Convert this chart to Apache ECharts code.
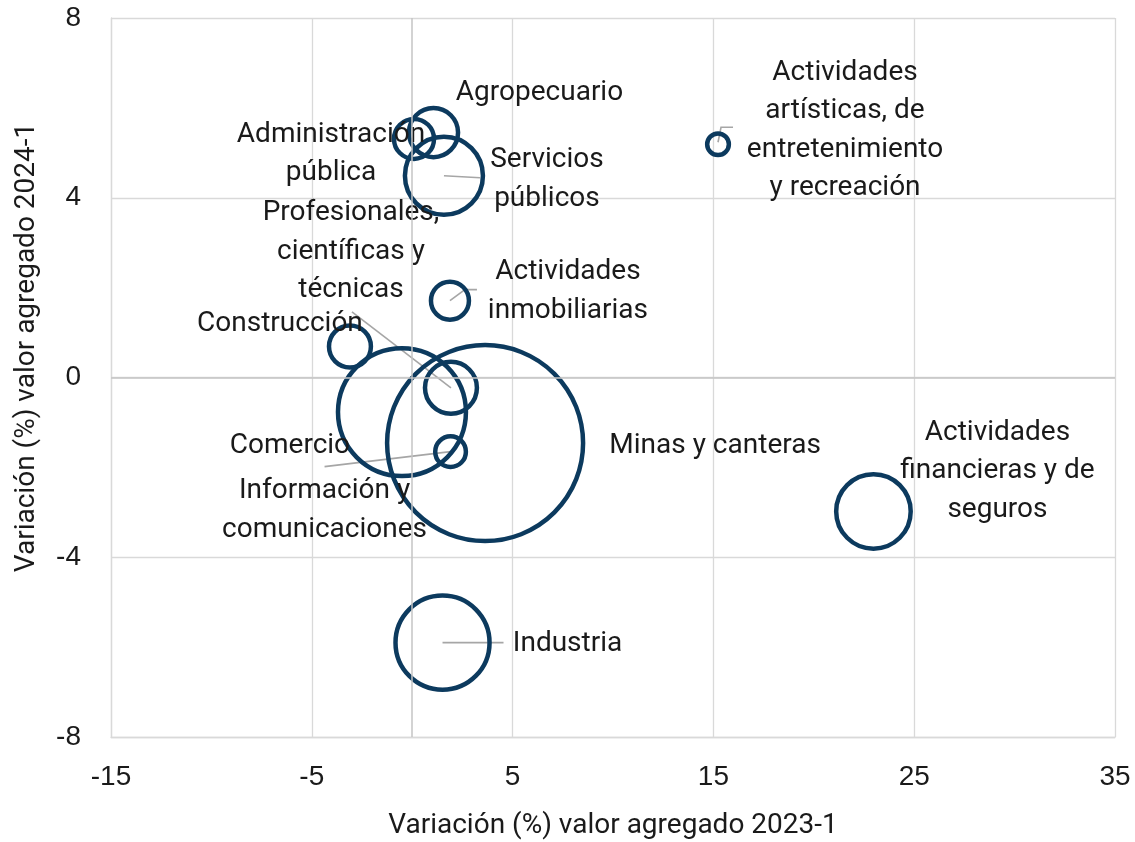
<!DOCTYPE html>
<html>
<head>
<meta charset="utf-8">
<script src="https://cdn.jsdelivr.net/npm/echarts@6/dist/echarts.min.js"></script>
<style>
html,body{margin:0;padding:0;background:#fff;}
#chart{width:1135px;height:842px;}
</style>
</head>
<body>
<div id="chart"></div>
<script>
// ---- Data ----
var sectors = [
  "Agropecuario",
  "Administración\npública",
  "Servicios\npúblicos",
  "Actividades\nartísticas, de\nentretenimiento\ny recreación",
  "Actividades\ninmobiliarias",
  "Construcción",
  "Profesionales,\ncientíficas y\ntécnicas",
  "Comercio",
  "Minas y canteras",
  "Información y\ncomunicaciones",
  "Actividades\nfinancieras y de\nseguros",
  "Industria"
];
var var2023 = [1.06, 0.09, 1.58, 15.23, 1.88, -3.10, 1.93, -0.51, 3.63, 1.91, 22.97, 1.51];
var var2024 = [5.45, 5.31, 4.49, 5.19, 1.71, 0.69, -0.23, -0.77, -1.46, -1.65, -2.98, -5.90];
var peso    = [0.77, 0.51, 1.94, 0.15, 0.46, 0.56, 0.86, 5.22, 12.25, 0.30, 1.77, 2.82];
var xTicks = [-15, -5, 5, 15, 25, 35];
var yTicks = [-8, -4, 0, 4, 8];

// ---- Layout (label offsets & leader lines, pixels relative to bubble centre) ----
var labelOffsets = [
  [106, -40], [-83, 15], [103, 4], [127, -14], [118, -9], [-70, -22],
  [-100, -136], [-112, 34], [230, 3], [-126, 59], [124, -40], [125, 1]
];
var leaders = {
  2: [[0, 0], [36, 2]],
  3: [[0, -2], [3, -17], [15, -17]],
  4: [[0, 0], [15, -11], [27, -11]],
  6: [[0, 0], [-99, -76]],
  9: [[0, 0], [-126, 15]],
  11: [[0, 0], [61, 0]]
};

var textColor = '#1a1a1a';
var labelFont = 'Roboto';
var tickFont = '"Liberation Sans", Arial, sans-serif';

var bubbleData = sectors.map(function (s, i) {
  return { name: s, value: [var2023[i], var2024[i], peso[i]] };
});
var leaderData = sectors.map(function (s, i) { return [var2023[i], var2024[i]]; });

var chart = echarts.init(document.getElementById('chart'), null, { renderer: 'canvas' });
chart.setOption({
  backgroundColor: '#ffffff',
  animation: false,
  grid: { left: 111, top: 18, width: 1004, height: 719, containLabel: false, outerBoundsMode: 'none' },
  xAxis: {
    type: 'value', min: xTicks[0], max: xTicks[xTicks.length - 1], interval: 10,
    name: 'Variación (%) valor agregado 2023-1',
    nameLocation: 'middle', nameGap: 75,
    nameTextStyle: { fontFamily: labelFont, fontSize: 28, color: textColor },
    axisLine: { show: true, onZero: false, lineStyle: { color: '#d9d9d9', width: 1.3 } },
    axisTick: { show: false },
    axisLabel: { fontFamily: tickFont, fontSize: 28, color: textColor, margin: 26 },
    splitLine: { show: true, lineStyle: { color: '#d9d9d9', width: 1.3 } }
  },
  yAxis: {
    type: 'value', min: yTicks[0], max: yTicks[yTicks.length - 1], interval: 4,
    name: 'Variación (%) valor agregado 2024-1',
    nameLocation: 'middle', nameGap: 70,
    nameTextStyle: { fontFamily: labelFont, fontSize: 28, color: textColor, padding: [0, 0, 0, 60] },
    axisLine: { show: true, onZero: false, lineStyle: { color: '#d9d9d9', width: 1.3 } },
    axisTick: { show: false },
    axisLabel: { fontFamily: tickFont, fontSize: 28, color: textColor, margin: 30 },
    splitLine: { show: true, lineStyle: { color: '#d9d9d9', width: 1.3 } }
  },
  series: [
    {
      type: 'custom',
      z: 1,
      silent: true,
      data: leaderData,
      renderItem: function (params, api) {
        var i = params.dataIndex;
        var pts = leaders[i];
        if (!pts) return { type: 'group', children: [] };
        var c = api.coord([api.value(0), api.value(1)]);
        return {
          type: 'polyline',
          shape: { points: pts.map(function (p) { return [c[0] + p[0], c[1] + p[1]]; }) },
          style: { stroke: '#a6a6a6', lineWidth: 1.6, fill: null }
        };
      },
      markLine: {
        silent: true, symbol: 'none', animation: false,
        label: { show: false },
        lineStyle: { color: '#c4c4c4', width: 1.5, type: 'solid' },
        data: [{ xAxis: 0 }, { yAxis: 0 }]
      }
    },
    {
      type: 'scatter',
      z: 3,
      data: bubbleData,
      symbol: 'circle',
      symbolSize: function (val) { return 56 * Math.sqrt(val[2]); },
      itemStyle: { color: 'rgba(255,255,255,0)', borderColor: '#0c3a5e', borderWidth: 4.5, opacity: 1 },
      emphasis: { disabled: true },
      label: {
        show: true,
        position: 'inside',
        formatter: function (p) { return p.name; },
        fontFamily: labelFont, fontSize: 28, lineHeight: 38.5,
        color: textColor, align: 'center', verticalAlign: 'middle'
      },
      labelLine: { show: false },
      labelLayout: function (params) {
        var o = labelOffsets[params.dataIndex];
        return { dx: o[0], dy: o[1], hideOverlap: false };
      }
    }
  ]
});
</script>
</body>
</html>
